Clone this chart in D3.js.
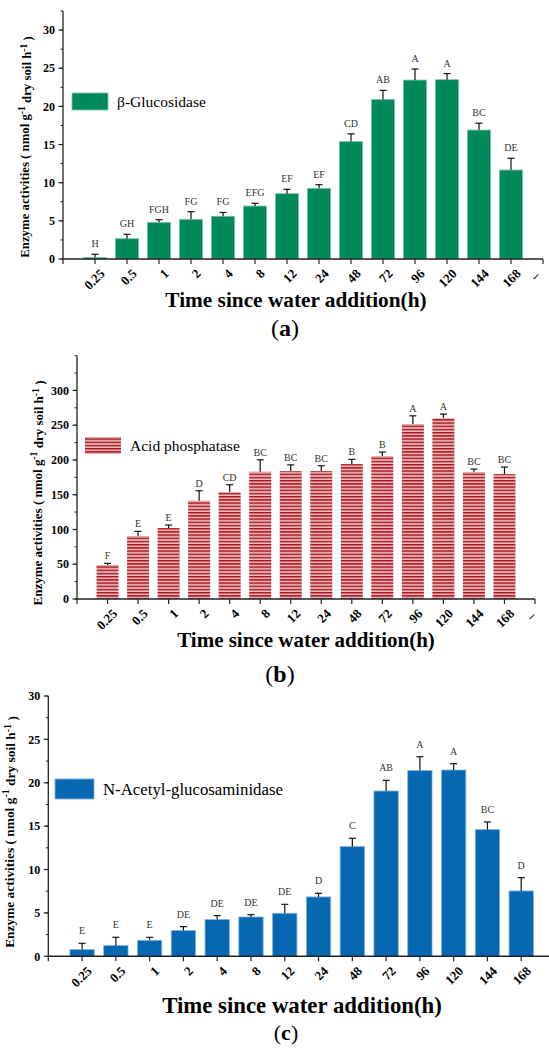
<!DOCTYPE html>
<html>
<head>
<meta charset="utf-8">
<script src="https://cdn.jsdelivr.net/npm/d3@7"></script>
<style>
  html, body { margin: 0; padding: 0; background: #fff; }
  svg { display: block; }
  text { font-family: "Liberation Serif", "Times New Roman", serif; }
</style>
</head>
<body>
<svg id="chart" width="549" height="1048"></svg>
<script>
// sampling times (h); slot 15 carries the stray dash Origin left at the axis end
const times = ["0.25", "0.5", "1", "2", "4", "8", "12", "24", "48", "72", "96", "120", "144", "168"]
const endLabel = "\u2013"

// (a) beta-glucosidase
const glucMean = [0.2, 2.66, 4.8, 5.2, 5.6, 6.94, 8.56, 9.26, 15.4, 20.9, 23.45, 23.5, 16.9, 11.66]
const glucErr = [0.42, 0.58, 0.35, 1.0, 0.5, 0.36, 0.57, 0.48, 1.0, 1.2, 1.45, 0.8, 0.9, 1.54]
const glucLetters = ["H", "GH", "FGH", "FG", "FG", "EFG", "EF", "EF", "CD", "AB", "A", "A", "BC", "DE"]
const glucTicks = [0, 5, 10, 15, 20, 25, 30]

// (b) acid phosphatase
const phosMean = [48.9, 90.6, 102, 141.3, 153.8, 183, 184, 184, 194, 205.6, 251.6, 260.2, 182.6, 179.7]
const phosErr = [2.4, 6.7, 4.4, 14.4, 10.5, 17.3, 9, 7.6, 6.8, 5.7, 11.9, 5.8, 4.3, 10.1]
const phosLetters = ["F", "E", "E", "D", "CD", "BC", "BC", "BC", "B", "B", "A", "A", "BC", "BC"]
const phosTicks = [0, 50, 100, 150, 200, 250, 300]

// (c) N-acetyl-glucosaminidase
const nagMean = [0.77, 1.23, 1.84, 2.96, 4.23, 4.53, 4.96, 6.84, 12.64, 19.05, 21.4, 21.47, 14.6, 7.53]
const nagErr = [0.73, 0.96, 0.35, 0.46, 0.46, 0.27, 1.03, 0.42, 0.96, 1.23, 1.6, 0.73, 0.88, 1.54]
const nagLetters = ["E", "E", "E", "DE", "DE", "DE", "DE", "D", "C", "AB", "A", "A", "BC", "D"]
const nagTicks = [0, 5, 10, 15, 20, 25, 30]

const svg = d3.select("#chart")

// striped fill for the phosphatase bars
const defs = svg.append("defs")
const pat = defs.append("pattern")
  .attr("id", "stripes")
  .attr("patternUnits", "userSpaceOnUse")
  .attr("width", 8).attr("height", 3.2)
pat.append("rect").attr("width", 8).attr("height", 3.2).attr("fill", "#fbeeee")
pat.append("rect").attr("y", 0).attr("width", 8).attr("height", 1.4).attr("fill", "#a80f18")
pat.append("rect").attr("y", 1.8).attr("width", 8).attr("height", 1.0).attr("fill", "#d98a8e")

const drawPanel = (cfg) => {
  const g = svg.append("g")

  const x = d3.scaleLinear().domain([0, 15]).range([cfg.x0, cfg.x1])
  const y = d3.scaleLinear().domain([0, cfg.yMax]).range([cfg.y0, cfg.yTop])
  const step = x(1) - x(0)
  const bw = step * 0.72

  const rows = times.map((t, i) => ({
    pos: i + 1, mean: cfg.mean[i], err: cfg.err[i], letter: cfg.letters[i],
  }))

  // bars
  g.selectAll("rect.bar")
    .data(rows)
    .join("rect")
    .attr("class", "bar")
    .attr("x", (d) => x(d.pos) - bw / 2)
    .attr("width", bw)
    .attr("y", (d) => y(d.mean))
    .attr("height", (d) => y(0) - y(d.mean))
    .attr("fill", cfg.fill)
    .attr("stroke", cfg.edge)
    .attr("stroke-width", 0.8)

  // error bars (upper half only)
  const eb = g.append("g").attr("stroke", "#111").attr("stroke-width", 1.2)
  eb.selectAll("line.v").data(rows).join("line")
    .attr("x1", (d) => x(d.pos)).attr("x2", (d) => x(d.pos))
    .attr("y1", (d) => y(d.mean)).attr("y2", (d) => y(d.mean + d.err))
  eb.selectAll("line.c").data(rows).join("line")
    .attr("x1", (d) => x(d.pos) - 3.5).attr("x2", (d) => x(d.pos) + 3.5)
    .attr("y1", (d) => y(d.mean + d.err)).attr("y2", (d) => y(d.mean + d.err))

  // significance letters
  g.selectAll("text.sig").data(rows).join("text")
    .attr("x", (d) => x(d.pos))
    .attr("y", (d) => y(d.mean + d.err) - cfg.letterGap)
    .attr("text-anchor", "middle")
    .attr("fill", "#333")
    .style("font-size", "10px")
    .text((d) => d.letter)

  // y axis
  const minor = d3.range(0, cfg.yMax + 0.001, cfg.minorStep)
  const yAx = g.append("g").attr("stroke", "#222")
  yAx.append("line").attr("x1", cfg.x0).attr("x2", cfg.x0)
    .attr("y1", y(0)).attr("y2", cfg.yTop).attr("stroke-width", 1.3)
  yAx.selectAll("line.mn").data(minor).join("line")
    .attr("x1", cfg.x0).attr("x2", cfg.x0 - 2.5)
    .attr("y1", (d) => y(d)).attr("y2", (d) => y(d)).attr("stroke-width", 1)
  yAx.selectAll("line.mj").data(cfg.ticks).join("line")
    .attr("x1", cfg.x0).attr("x2", cfg.x0 - 4.5)
    .attr("y1", (d) => y(d)).attr("y2", (d) => y(d)).attr("stroke-width", 1.2)
  g.selectAll("text.yt").data(cfg.ticks).join("text")
    .attr("x", cfg.x0 - 8)
    .attr("y", (d) => y(d))
    .attr("dy", "0.35em")
    .attr("text-anchor", "end")
    .style("font-size", "12px")
    .style("font-weight", "bold")
    .text((d) => d)

  // x axis
  const xAx = g.append("g").attr("stroke", "#222")
  xAx.append("line").attr("x1", cfg.x0).attr("x2", cfg.x1)
    .attr("y1", cfg.y0).attr("y2", cfg.y0).attr("stroke-width", 1.5)
  xAx.selectAll("line.xt").data(d3.range(0, 16)).join("line")
    .attr("x1", (d) => x(d)).attr("x2", (d) => x(d))
    .attr("y1", cfg.y0).attr("y2", cfg.y0 + 5).attr("stroke-width", 1.2)
  const xLabels = times.map((t, i) => ({ pos: i + 1, t }))
  g.selectAll("text.xt").data(xLabels).join("text")
    .attr("transform", (d) => `translate(${x(d.pos) + 5},${cfg.y0 + 10}) rotate(-45)`)
    .attr("dy", "0.6em")
    .attr("text-anchor", "end")
    .style("font-size", "13px")
    .style("font-weight", "bold")
    .text((d) => d.t)
  if (cfg.showEnd) {
    g.append("text")
      .attr("transform", `translate(${Math.min(x(15) - 1, 538)},${cfg.y0 + 20}) rotate(-45)`)
      .attr("text-anchor", "middle")
      .style("font-size", "13px")
      .style("font-weight", "bold")
      .text(endLabel)
  }

  // axis titles
  const yl = g.append("text")
    .attr("transform", `translate(${cfg.ylX},${cfg.ylY}) rotate(-90)`)
    .attr("text-anchor", "middle")
    .attr("dy", "0.35em")
    .style("font-size", cfg.ylSize + "px")
    .style("font-weight", "bold")
  yl.append("tspan").text("Enzyme activities ( nmol g")
  yl.append("tspan").attr("dy", "-0.45em").style("font-size", "0.75em").text("-1")
  yl.append("tspan").attr("dy", "0.45em").text(" dry soil h")
  yl.append("tspan").attr("dy", "-0.45em").style("font-size", "0.75em").text("-1")
  yl.append("tspan").attr("dy", "0.45em").text(" )")

  g.append("text")
    .attr("x", cfg.xtX).attr("y", cfg.xtY)
    .attr("text-anchor", "middle")
    .style("font-size", cfg.xtSize + "px")
    .style("font-weight", "bold")
    .text("Time since water addition(h)")

  const tag = g.append("text")
    .attr("x", cfg.tagX).attr("y", cfg.tagY)
    .attr("text-anchor", "middle")
    .style("font-size", cfg.tagSize + "px")
  tag.append("tspan").text("(")
  tag.append("tspan").style("font-weight", "bold").text(cfg.tag)
  tag.append("tspan").text(")")

  // legend
  g.append("rect")
    .attr("x", cfg.lgX).attr("y", cfg.lgY)
    .attr("width", cfg.lgW).attr("height", cfg.lgH)
    .attr("fill", cfg.fill)
    .attr("stroke", cfg.edge).attr("stroke-width", 0.8)
  g.append("text")
    .attr("x", cfg.lgX + cfg.lgW + 9)
    .attr("y", cfg.lgY + cfg.lgH / 2)
    .attr("dy", "0.35em")
    .style("font-size", cfg.lgSize + "px")
    .text(cfg.name)
}

drawPanel({
  mean: glucMean, err: glucErr, letters: glucLetters, ticks: glucTicks,
  yMax: 32.5, minorStep: 2.5,
  x0: 63, x1: 543, y0: 259, yTop: 11,
  fill: "#008a5a", edge: "#7cc4a2", letterGap: 7, showEnd: true,
  ylX: 25, ylY: 147, ylSize: 12.8,
  xtX: 296, xtY: 307, xtSize: 21.3,
  tag: "a", tagX: 285, tagY: 336, tagSize: 24,
  lgX: 72, lgY: 93, lgW: 36, lgH: 17, lgSize: 15.5,
  name: "\u03b2-Glucosidase",
})

drawPanel({
  mean: phosMean, err: phosErr, letters: phosLetters, ticks: phosTicks,
  yMax: 350, minorStep: 25,
  x0: 77, x1: 535, y0: 599, yTop: 355.7,
  fill: "url(#stripes)", edge: "none", letterGap: 4, showEnd: true,
  ylX: 37, ylY: 493, ylSize: 13,
  xtX: 306, xtY: 647, xtSize: 21,
  tag: "b", tagX: 280, tagY: 682, tagSize: 24,
  lgX: 85, lgY: 437, lgW: 36, lgH: 17, lgSize: 15.5,
  name: "Acid phosphatase",
})

drawPanel({
  mean: nagMean, err: nagErr, letters: nagLetters, ticks: nagTicks,
  yMax: 30, minorStep: 2.5,
  x0: 48.3, x1: 555, y0: 956.3, yTop: 696,
  fill: "#0768b2", edge: "#7fb2de", letterGap: 9, showEnd: false,
  ylX: 9, ylY: 832, ylSize: 13.4,
  xtX: 302, xtY: 1013, xtSize: 22.8,
  tag: "c", tagX: 286, tagY: 1040, tagSize: 22,
  lgX: 55, lgY: 779, lgW: 39, lgH: 20, lgSize: 16.8,
  name: "N-Acetyl-glucosaminidase",
})
</script>
</body>
</html>
